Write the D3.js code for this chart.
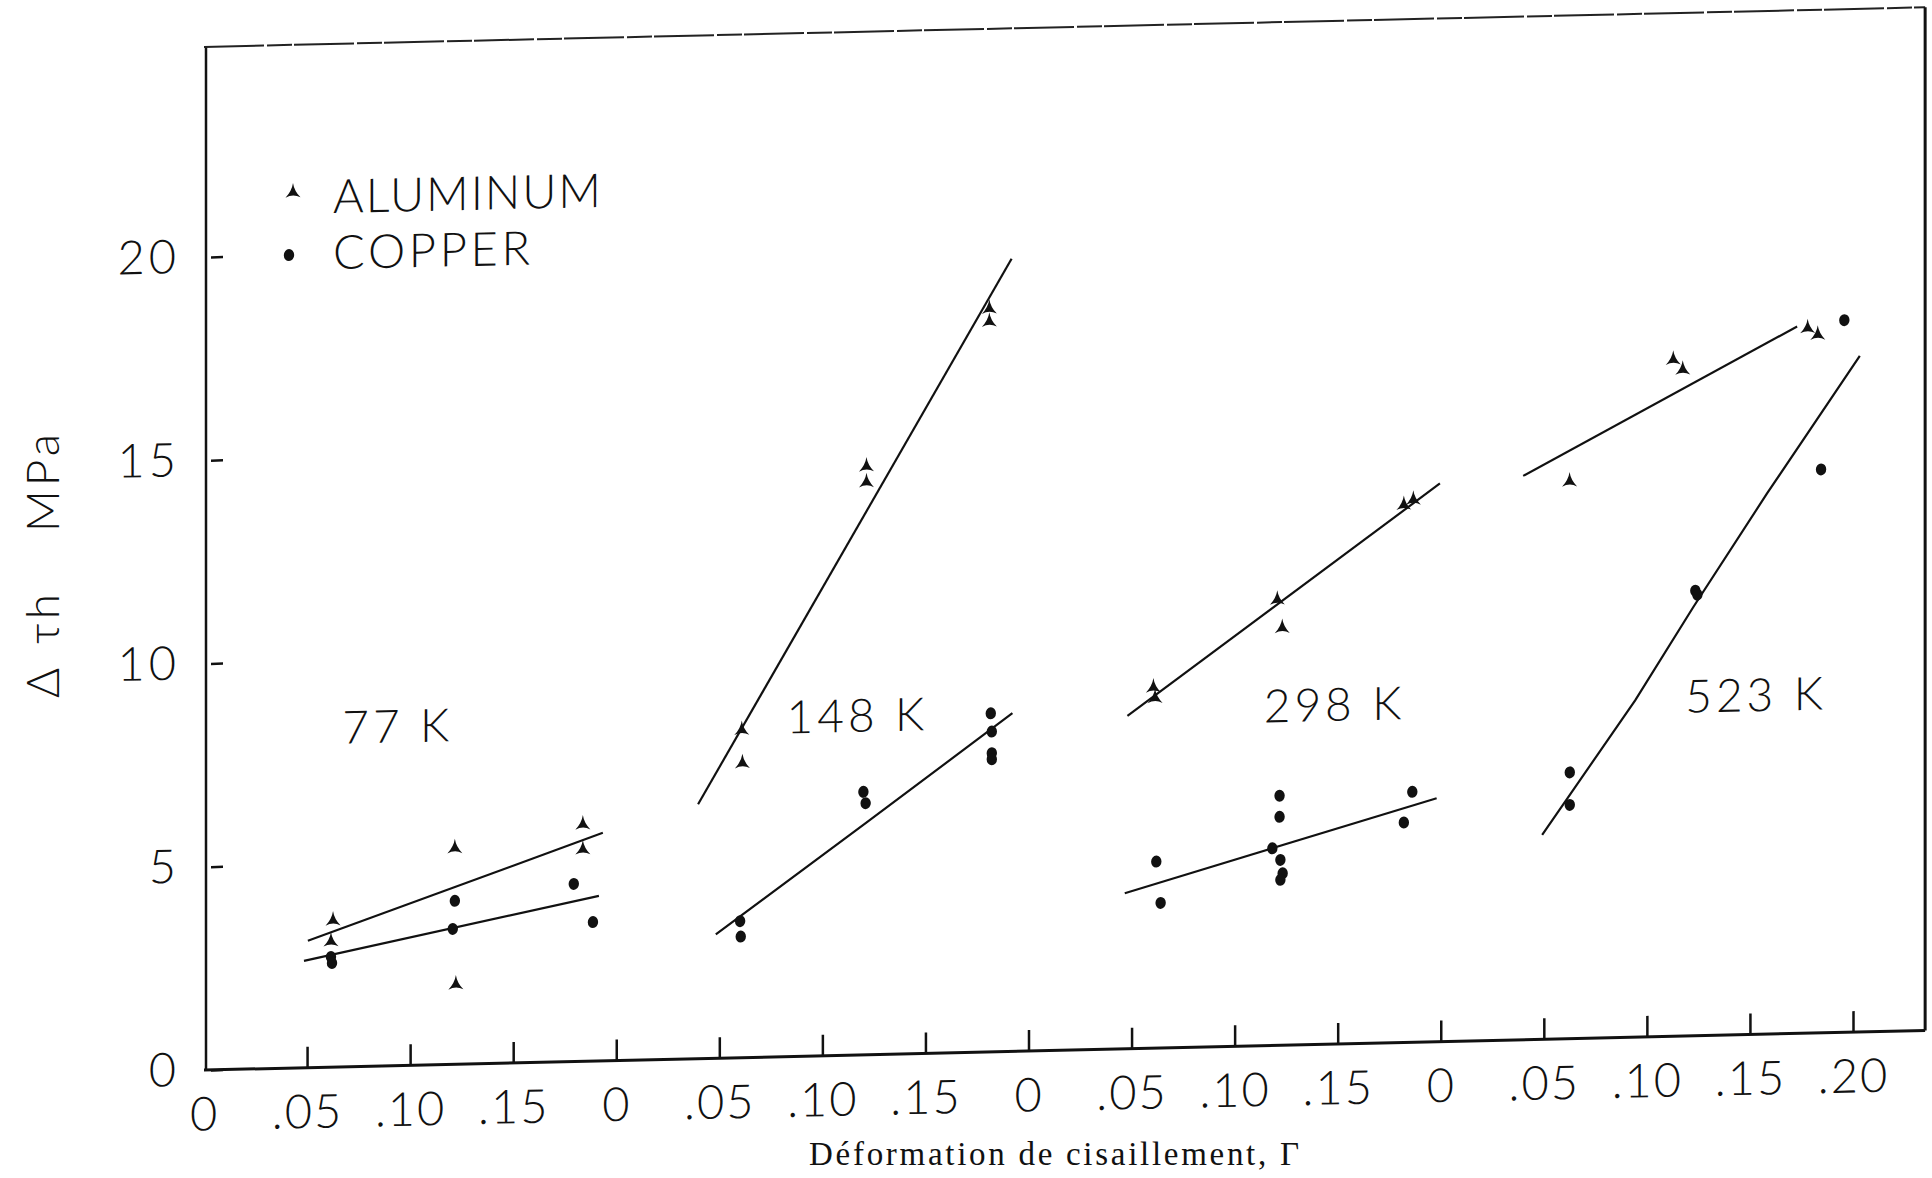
<!DOCTYPE html>
<html>
<head>
<meta charset="utf-8">
<script src="https://cdn.jsdelivr.net/npm/d3@7.9.0/dist/d3.min.js"></script>
<style>
  body { margin: 0; background: #fff; }
  svg { display: block; background: #fff; }
  .lbl { font-family: Lato, 'Open Sans', 'DejaVu Sans', sans-serif; font-weight: 300; fill: #111; }
</style>
</head>
<body>
<div id="chart"></div>
<script>
// four temperature panels, each 0 .. 0.20 strain, laid side by side
const temperatures = ['77 K', '148 K', '298 K', '523 K'];
const xTickLabels = ['0', '.05', '.10', '.15', '0', '.05', '.10', '.15', '0', '.05', '.10', '.15', '0', '.05', '.10', '.15', '.20'];
const yTicks = [0, 5, 10, 15, 20];

// [panel, shear strain, delta tau (MPa)]
const aluminum = [
  [0, 0.0626, 3.64], [0, 0.0616, 3.13], [0, 0.1217, 5.35], [0, 0.1222, 2.0], [0, 0.1838, 5.86], [0, 0.1838, 5.25],
  [1, 0.0609, 8.10], [1, 0.0612, 7.28], [1, 0.1214, 14.51], [1, 0.1214, 14.12], [1, 0.1810, 18.32], [1, 0.1810, 18.0],
  [2, 0.0606, 8.91], [2, 0.0614, 8.65], [2, 0.1207, 11.0], [2, 0.1231, 10.30], [2, 0.1821, 13.26], [2, 0.1867, 13.38],
  [3, 0.0625, 13.74], [3, 0.1128, 16.68], [3, 0.1174, 16.43], [3, 0.1780, 17.38], [3, 0.1829, 17.21]
];
const copper = [
  [0, 0.0616, 2.71], [0, 0.0621, 2.56], [0, 0.1217, 4.02], [0, 0.1207, 3.33], [0, 0.1794, 4.37], [0, 0.1887, 3.42],
  [1, 0.0601, 3.36], [1, 0.0604, 2.98], [1, 0.1199, 6.47], [1, 0.1210, 6.19], [1, 0.1817, 8.33], [1, 0.1822, 7.88],
  [1, 0.1822, 7.35], [1, 0.1822, 7.20],
  [2, 0.0620, 4.59], [2, 0.0641, 3.57], [2, 0.1218, 6.14], [2, 0.1218, 5.62], [2, 0.1183, 4.85], [2, 0.1222, 4.56],
  [2, 0.1233, 4.23], [2, 0.1222, 4.07], [2, 0.1862, 6.16], [2, 0.1821, 5.41],
  [3, 0.0626, 6.55], [3, 0.0626, 5.75], [3, 0.1235, 10.95], [3, 0.1245, 10.85], [3, 0.1845, 13.86], [3, 0.1958, 17.52]
];

// hand drawn fit lines, one per panel: [strain, MPa]
const aluminumFits = [
  [[0.0504, 3.12], [0.1935, 5.61]],
  [[0.0397, 6.26], [0.1918, 19.5]],
  [[0.0480, 8.19], [0.1996, 13.73]],
  [[0.0400, 13.87], [0.1729, 17.39]]
];
const copperFits = [
  [[0.0485, 2.63], [0.1916, 4.06]],
  [[0.0483, 3.05], [0.1210, 5.70], [0.1922, 8.32]],
  [[0.0467, 3.83], [0.1980, 5.99]],
  [[0.0492, 5.03], [0.0944, 8.29], [0.1227, 10.56], [0.1583, 13.30], [0.2033, 16.63]]
];

const W = 1932, H = 1178;
const PANEL = 0.2;
const skew = 0.023;   // the scanned page is slightly sheared
const axisX = 206;

const svg = d3.select('#chart').append('svg')
  .attr('width', W).attr('height', H).attr('viewBox', `0 0 ${W} ${H}`);

const x = d3.scaleLinear().domain([0, 0.8]).range([204, 1853]);
const y = d3.scaleLinear().domain([0, 20]).range([1070, 257]);

const g = svg.append('g')
  .attr('transform', `translate(0,${skew * axisX}) skewY(${-Math.atan(skew) * 180 / Math.PI})`);

// frame
const xMax = 0.835, yMax = 25.17;
g.append('line').attr('x1', x(0) + 2).attr('x2', x(0) + 2).attr('y1', y(0)).attr('y2', y(yMax))
  .attr('stroke', '#111').attr('stroke-width', 2.5);
g.append('line').attr('x1', x(0)).attr('x2', x(xMax)).attr('y1', y(0)).attr('y2', y(0))
  .attr('stroke', '#111').attr('stroke-width', 3);
g.append('line').attr('x1', x(0)).attr('x2', x(xMax)).attr('y1', y(yMax)).attr('y2', y(yMax))
  .attr('stroke', '#222').attr('stroke-width', 2).attr('stroke-dasharray', '60 3 25 2');
g.append('line').attr('x1', x(xMax)).attr('x2', x(xMax)).attr('y1', y(0)).attr('y2', y(yMax))
  .attr('stroke', '#111').attr('stroke-width', 3);

// axes
const xAxis = g.append('g')
  .attr('transform', `translate(0,${y(0)})`)
  .call(d3.axisBottom(x)
    .tickValues(d3.range(17).map(i => i * 0.05))
    .tickFormat((d, i) => xTickLabels[i])
    .tickSize(-21).tickPadding(27));
xAxis.select('.domain').remove();
xAxis.selectAll('line').attr('stroke', '#111').attr('stroke-width', 2.5)
  .filter((d, i) => i === 0).remove();
xAxis.selectAll('text').attr('class', 'lbl').attr('font-size', 47).attr('letter-spacing', 2);

const yAxis = g.append('g')
  .attr('transform', `translate(${axisX},0)`)
  .call(d3.axisLeft(y).tickValues(yTicks).tickSize(-12).tickPadding(26));
yAxis.select('.domain').remove();
yAxis.selectAll('line').attr('stroke', '#111').attr('stroke-width', 2.5)
  .attr('transform', 'translate(5,0)');
yAxis.selectAll('text').attr('class', 'lbl').attr('font-size', 47).attr('letter-spacing', 4);

// fit lines
const line = d3.line().x(d => x(d.p * PANEL + d.s)).y(d => y(d.v));
const fits = [];
aluminumFits.forEach((pts, p) => fits.push(pts.map(([s, v]) => ({ p, s, v }))));
copperFits.forEach((pts, p) => fits.push(pts.map(([s, v]) => ({ p, s, v }))));
g.append('g').selectAll('path').data(fits).join('path')
  .attr('d', line).attr('fill', 'none').attr('stroke', '#111').attr('stroke-width', 2.2);

// markers
const triPath = 'M0,-8 Q1.2,0 7.5,6.5 Q0,2.5 -7.5,6.5 Q-1.2,0 0,-8Z';
g.append('g').selectAll('path').data(aluminum).join('path')
  .attr('d', triPath)
  .attr('transform', d => `translate(${x(d[0] * PANEL + d[1])},${y(d[2])})`)
  .attr('fill', '#111');
g.append('g').selectAll('ellipse').data(copper).join('ellipse')
  .attr('cx', d => x(d[0] * PANEL + d[1]))
  .attr('cy', d => y(d[2]))
  .attr('rx', 5.2).attr('ry', 6).attr('fill', '#111');

// temperature labels
const labelStrain = [0.094, 0.117, 0.1485, 0.153];
g.append('g').selectAll('text').data(temperatures).join('text')
  .attr('class', 'lbl')
  .attr('x', (d, i) => x(i * PANEL + labelStrain[i]))
  .attr('y', y(7.95))
  .attr('text-anchor', 'middle')
  .attr('font-size', 46)
  .attr('letter-spacing', 4)
  .text(d => d);

// legend
const legend = g.append('g');
legend.append('path').attr('d', triPath).attr('transform', 'translate(293,193)').attr('fill', '#111');
legend.append('ellipse').attr('cx', 289).attr('cy', 257).attr('rx', 5.2).attr('ry', 6).attr('fill', '#111');
legend.append('text').attr('class', 'lbl').attr('x', 333).attr('y', 216)
  .attr('font-size', 47).attr('textLength', 268).attr('lengthAdjust', 'spacing').text('ALUMINUM');
legend.append('text').attr('class', 'lbl').attr('x', 333).attr('y', 272)
  .attr('font-size', 47).attr('textLength', 197).attr('lengthAdjust', 'spacing').text('COPPER');

// axis titles
const yTitle = svg.append('g').attr('class', 'lbl').attr('font-size', 46);
[['Δ', 681], ['τh', 617], ['MPa', 481]].forEach(([t, cy]) => {
  yTitle.append('text')
    .attr('transform', `translate(59,${cy}) rotate(-90)`)
    .attr('text-anchor', 'middle')
    .attr('letter-spacing', 4)
    .text(t);
});

svg.append('text')
  .attr('x', 809).attr('y', 1165)
  .attr('font-family', "'Liberation Serif', 'Times New Roman', serif")
  .attr('font-size', 33)
  .attr('fill', '#111')
  .attr('textLength', 490).attr('lengthAdjust', 'spacing')
  .text('Déformation de cisaillement, Γ');
</script>
</body>
</html>
